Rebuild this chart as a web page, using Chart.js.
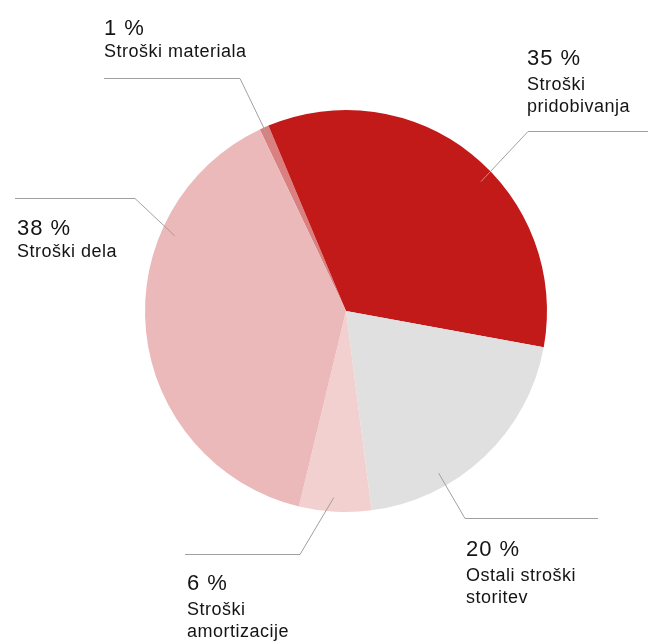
<!DOCTYPE html>
<html>
<head>
<meta charset="utf-8">
<script src="https://cdn.jsdelivr.net/npm/chart.js@4/dist/chart.umd.min.js"></script>
<style>
  html, body { margin: 0; padding: 0; background: #fff; }
  #wrap { position: relative; width: 648px; height: 641px; }
</style>
</head>
<body>
<div id="wrap"><canvas id="chartCanvas" width="648" height="641"></canvas></div>
<script>
// Data (share of total costs, clockwise from the top)
const categories = ['Stroški materiala', 'Stroški pridobivanja', 'Ostali stroški storitev', 'Stroški amortizacije', 'Stroški dela'];
const shares = [0.75, 34.2, 20.1, 5.8, 39.2];
const percentLabels = ['1 %', '35 %', '20 %', '6 %', '38 %'];
const sliceColors = ['#db8080', '#c21a18', '#e0e0e0', '#f3d0d0', '#ebb9b9'];

// Label layout: where the leader line touches the slice (fraction of its arc),
// the elbow, the end of the horizontal line and the text block
const labelLayout = [
  { at: 0.5,  elbow: [240, 78],  end: 104, text: [104, 35],  gap: 22, lines: ['Stroški materiala'] },
  { at: 0.56, elbow: [528, 131], end: 648, text: [527, 65],  gap: 25, lines: ['Stroški', 'pridobivanja'] },
  { at: 0.69, elbow: [465, 518], end: 598, text: [466, 556], gap: 25, lines: ['Ostali stroški', 'storitev'] },
  { at: 0.53, elbow: [300, 554], end: 185, text: [187, 590], gap: 25, lines: ['Stroški', 'amortizacije'] },
  { at: 0.71, elbow: [135, 198], end: 15,  text: [17, 235],  gap: 22, lines: ['Stroški dela'] }
];

const fontFamily = '"Liberation Sans", Arial, Helvetica, sans-serif';

// Draws the leader lines and the text next to each slice
const leaderLabels = {
  id: 'leaderLabels',
  afterDraw(chart) {
    const ctx = chart.ctx;
    const arcs = chart.getDatasetMeta(0).data;
    ctx.save();
    arcs.forEach((arc, i) => {
      const lay = labelLayout[i];
      const angle = arc.startAngle + (arc.endAngle - arc.startAngle) * lay.at;
      const r = arc.outerRadius * 0.93;
      const px = arc.x + Math.cos(angle) * r;
      const py = arc.y + Math.sin(angle) * r;

      ctx.strokeStyle = '#a0a0a0';
      ctx.lineWidth = 1;
      ctx.beginPath();
      ctx.moveTo(px, py);
      ctx.lineTo(lay.elbow[0], lay.elbow[1] + 0.5);
      ctx.lineTo(lay.end, lay.elbow[1] + 0.5);
      ctx.stroke();

      ctx.fillStyle = '#141414';
      ctx.textBaseline = 'alphabetic';
      ctx.textAlign = 'left';
      ctx.font = '22px ' + fontFamily;
      ctx.letterSpacing = '1px';
      ctx.fillText(percentLabels[i], lay.text[0], lay.text[1]);
      ctx.font = '18px ' + fontFamily;
      ctx.letterSpacing = '0.5px';
      lay.lines.forEach((line, k) => {
        ctx.fillText(line, lay.text[0], lay.text[1] + lay.gap + k * 22);
      });
    });
    ctx.restore();
  }
};

const chartConfig = {
  type: 'pie',
  data: {
    labels: categories,
    datasets: [{
      data: shares,
      backgroundColor: sliceColors,
      borderWidth: 0
    }]
  },
  options: {
    responsive: false,
    animation: false,
    rotation: -25.4,
    layout: { padding: { left: 145, top: 110, right: 101, bottom: 129 } },
    plugins: {
      legend: { display: false },
      tooltip: { enabled: false }
    }
  },
  plugins: [leaderLabels]
};

const chartCanvas = document.getElementById('chartCanvas');
new Chart(chartCanvas.getContext('2d'), chartConfig);
</script>
</body>
</html>
